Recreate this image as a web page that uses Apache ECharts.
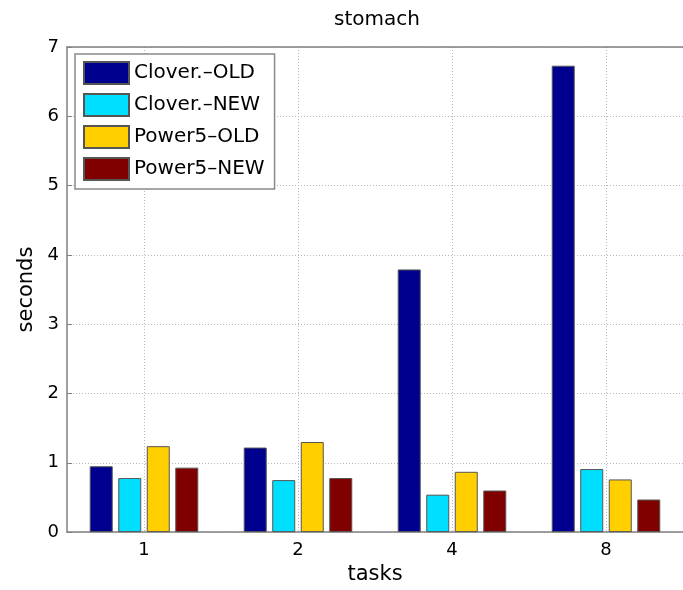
<!DOCTYPE html>
<html>
<head>
<meta charset="utf-8">
<script src="https://cdn.jsdelivr.net/npm/echarts@6/dist/echarts.min.js"></script>
<style>html,body{margin:0;padding:0;background:#fff}#c{width:683px;height:590px}</style>
</head>
<body>
<div id="c"></div>
<script>
const categories = ['1', '2', '4', '8'];
const seriesNames = ['Clover.–OLD', 'Clover.–NEW', 'Power5–OLD', 'Power5–NEW'];
const cloverOld = [0.95, 1.22, 3.79, 6.73];
const cloverNew = [0.78, 0.75, 0.54, 0.91];
const power5Old = [1.24, 1.30, 0.87, 0.76];
const power5New = [0.93, 0.78, 0.60, 0.47];
const yTicks = [0, 1, 2, 3, 4, 5, 6, 7];

const colors = ['#00008f', '#00dfff', '#ffcf00', '#800000'];
const values = [cloverOld, cloverNew, power5Old, power5New];
const FONT = 'DejaVu Sans';

const chart = echarts.init(document.getElementById('c'), null, {renderer: 'canvas'});
const gridLine = {show: true, lineStyle: {color: '#b8b8b8', type: [1, 2], width: 1}};
chart.setOption({
  animation: false,
  backgroundColor: '#fff',
  title: {
    text: 'stomach', left: 334, top: 10, padding: 0,
    textStyle: {fontFamily: FONT, fontSize: 20, fontWeight: 'normal', color: '#000'}
  },
  legend: {
    data: seriesNames, orient: 'vertical', left: 75, top: 54, icon: 'rect',
    padding: [7, 10, 8, 8], itemGap: 8, itemWidth: 45, itemHeight: 22,
    backgroundColor: '#fff', borderColor: '#8a8a8a', borderWidth: 1.5,
    textStyle: {fontFamily: FONT, fontSize: 20, color: '#000'}
  },
  grid: {left: 67, top: 47, width: 624, height: 493, containLabel: false},
  xAxis: [{
    type: 'category', data: categories, position: 'bottom',
    name: 'tasks', nameLocation: 'middle', nameGap: 30,
    nameTextStyle: {fontFamily: FONT, fontSize: 21, color: '#000'},
    axisLine: {lineStyle: {color: '#808080', width: 1.5}},
    axisTick: {inside: true, alignWithLabel: true, length: 5, lineStyle: {color: '#808080'}},
    axisLabel: {fontFamily: FONT, fontSize: 18, color: '#000', margin: 9},
    splitLine: Object.assign({alignWithLabel: true}, gridLine)
  }, {
    type: 'category', data: categories, position: 'top',
    axisLine: {lineStyle: {color: '#808080', width: 1.5}},
    axisTick: {inside: true, alignWithLabel: true, length: 5, lineStyle: {color: '#808080'}},
    axisLabel: {show: false}, splitLine: {show: false}
  }],
  yAxis: {
    type: 'value', min: 0, max: 7, interval: 1,
    name: 'seconds', nameLocation: 'middle', nameGap: 30, nameRotate: 90,
    nameTextStyle: {fontFamily: FONT, fontSize: 21, color: '#000'},
    axisLine: {show: true, lineStyle: {color: '#808080', width: 1.5}},
    axisTick: {show: true, inside: true, length: 5, lineStyle: {color: '#808080'}},
    axisLabel: {fontFamily: FONT, fontSize: 18, color: '#000', margin: 8,
      formatter: v => yTicks.includes(v) ? String(v) : ''},
    splitLine: gridLine
  },
  series: values.map((d, i) => ({
    name: seriesNames[i], type: 'bar', data: d, xAxisIndex: 0,
    barWidth: 23, barGap: '24%',
    itemStyle: {color: colors[i], borderColor: '#555', borderWidth: 1}
  }))
});
</script>
</body>
</html>
